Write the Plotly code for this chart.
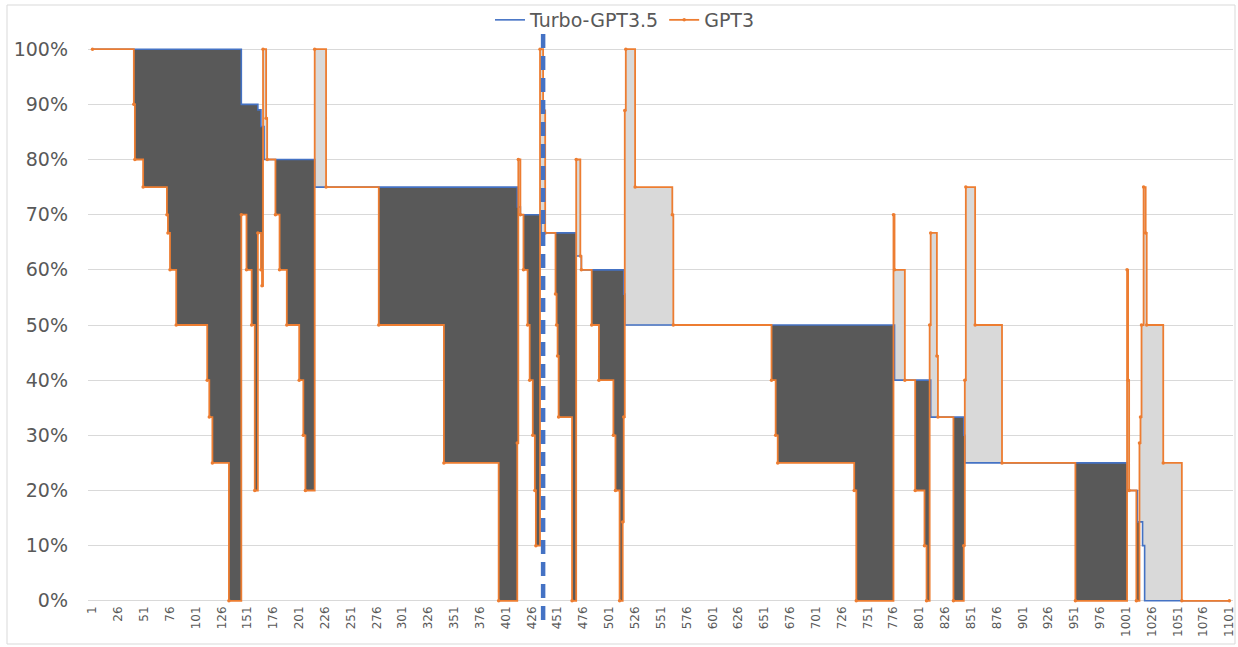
import plotly.graph_objects as go

N_POINTS = 1101

# Turbo-GPT3.5 : step series (index where a new level starts, level)
turbo_start = [1, 145, 161, 164, 167, 216, 412, 415, 435, 469, 474, 515, 516,
               777, 812, 844, 845, 1002, 1012, 1017, 1019]
turbo_value = [1.0, 0.90, 0.89, 0.86, 0.80, 0.75, 0.714, 0.70, 0.667, 0.625, 0.60, 0.556, 0.50,
               0.40, 0.333, 0.30, 0.25, 0.20, 0.143, 0.10, 0.0]

# GPT3 : step series
gpt3_start = [1, 41, 42, 50, 73, 74, 76, 82, 112, 114, 117, 133,
              145, 150, 155, 158, 161, 164, 165, 166, 169, 170, 178, 182, 189, 201, 205, 207,
              216, 227, 278, 341, 394,
              412, 413, 415, 418, 422, 424, 427, 429, 430, 434, 437, 439,
              449, 450, 451, 452, 465, 469, 473, 474, 484, 491, 505, 507, 511,
              514, 515, 516, 517, 526, 562, 563,
              658, 662, 664, 738, 740,
              776, 777, 787, 797, 806, 808, 811, 812, 818, 819, 834,
              844, 845, 846, 855, 881, 952,
              1002, 1003, 1004, 1011, 1014, 1015, 1016, 1018, 1020, 1021, 1037, 1055]
gpt3_value = [1.0, 0.90, 0.80, 0.75, 0.70, 0.667, 0.60, 0.50, 0.40, 0.333, 0.25, 0.0,
              0.70, 0.60, 0.50, 0.20, 0.667, 0.60, 0.571, 1.0, 0.875, 0.80, 0.70, 0.60, 0.50, 0.40, 0.30, 0.20,
              1.0, 0.75, 0.50, 0.25, 0.0,
              0.286, 0.80, 0.70, 0.60, 0.50, 0.40, 0.30, 0.20, 0.10, 1.0, 0.889, 0.667,
              0.556, 0.50, 0.444, 0.333, 0.0, 0.80, 0.625, 0.60, 0.50, 0.40, 0.30, 0.20, 0.0,
              0.143, 0.333, 0.889, 1.0, 0.75, 0.70, 0.50,
              0.40, 0.30, 0.25, 0.20, 0.0,
              0.70, 0.60, 0.40, 0.20, 0.10, 0.0, 0.50, 0.667, 0.444, 0.333, 0.0,
              0.10, 0.40, 0.75, 0.50, 0.25, 0.0,
              0.60, 0.40, 0.20, 0.0, 0.286, 0.333, 0.50, 0.75, 0.667, 0.50, 0.25, 0.0]

marker_index = 437  # dashed vertical divider

x_tick_labels = list(range(1, N_POINTS + 1, 25))
y_tick_values = [0, 0.1, 0.2, 0.3, 0.4, 0.5, 0.6, 0.7, 0.8, 0.9, 1.0]
y_tick_labels = ["0%", "10%", "20%", "30%", "40%", "50%", "60%", "70%", "80%", "90%", "100%"]

assert len(turbo_start) == len(turbo_value)
assert len(gpt3_start) == len(gpt3_value)

BLUE = "#4472C4"
ORANGE = "#ED7D31"
DARK = "#595959"
LIGHT = "#D9D9D9"
TXT = "#595959"
FONT = "DejaVu Sans"


def level_at(starts, values, i):
    v = values[0]
    for s, val in zip(starts, values):
        if s <= i:
            v = val
        else:
            break
    return v


def step_xy(starts, values):
    return list(starts) + [N_POINTS], list(values) + [values[-1]]


tx, ty = step_xy(turbo_start, turbo_value)
gx, gy = step_xy(gpt3_start, gpt3_value)

breaks = sorted(set(turbo_start) | set(gpt3_start))
low_y = [min(level_at(turbo_start, turbo_value, b), level_at(gpt3_start, gpt3_value, b)) for b in breaks]
low_x, low_y = step_xy(breaks, low_y)

fig = go.Figure()
common = dict(mode="lines", hoverinfo="skip", showlegend=False)

# dark: where Turbo is above GPT3
fig.add_trace(go.Scatter(x=low_x, y=low_y, line=dict(width=0, shape="hv"), **common))
fig.add_trace(go.Scatter(x=tx, y=ty, line=dict(width=0, shape="hv"), fill="tonexty",
                         fillcolor=DARK, **common))
# light: where GPT3 is above Turbo
fig.add_trace(go.Scatter(x=low_x, y=low_y, line=dict(width=0, shape="hv"), **common))
fig.add_trace(go.Scatter(x=gx, y=gy, line=dict(width=0, shape="hv"), fill="tonexty",
                         fillcolor=LIGHT, **common))

fig.add_trace(go.Scatter(x=tx, y=ty, mode="lines", name="Turbo-GPT3.5",
                         line=dict(color=BLUE, width=1.6, shape="hv")))
fig.add_trace(go.Scatter(x=gx, y=gy, mode="lines+markers", name="GPT3",
                         line=dict(color=ORANGE, width=1.8, shape="hv"),
                         marker=dict(color=ORANGE, size=3.5, symbol="circle")))

plot_l, plot_r, plot_t, plot_b = 88, 5, 47, 44
pw = 1238 - plot_l - plot_r
ph = 647 - plot_t - plot_b

fig.add_shape(type="line", xref="x", yref="paper",
              x0=marker_index, x1=marker_index,
              y0=(647 - plot_b - 620) / ph, y1=(647 - plot_b - 33) / ph,
              line=dict(color=BLUE, width=4.5, dash="14px,8px"))

fig.add_shape(type="rect", xref="paper", yref="paper",
              x0=(7 - plot_l) / pw, x1=(1235 - plot_l) / pw,
              y0=(647 - plot_b - 644) / ph, y1=(647 - plot_b - 5) / ph,
              line=dict(color="#D9D9D9", width=1), fillcolor="rgba(0,0,0,0)", layer="below")

fig.update_layout(
    width=1238, height=647,
    margin=dict(l=plot_l, r=plot_r, t=plot_t, b=plot_b, autoexpand=False),
    paper_bgcolor="white", plot_bgcolor="white",
    font=dict(family=FONT, color=TXT),
    showlegend=True,
    legend=dict(orientation="h", x=(625 - plot_l) / pw, xanchor="center",
                y=(647 - plot_b - 20) / ph, yanchor="middle", traceorder="normal",
                font=dict(family=FONT, size=19, color=TXT),
                bgcolor="rgba(0,0,0,0)", itemwidth=30, tracegroupgap=0),
    xaxis=dict(range=[-3.35, 1104.5], tickmode="array", tickvals=x_tick_labels,
               ticktext=[str(v) for v in x_tick_labels], tickangle=-90,
               tickfont=dict(family=FONT, size=12, color=TXT), automargin=False,
               showgrid=False, zeroline=False, showline=False, ticks=""),
    yaxis=dict(range=[-0.004, 1.004], tickmode="array", tickvals=y_tick_values,
               ticktext=y_tick_labels, tickfont=dict(family=FONT, size=19, color=TXT),
               showgrid=True, gridcolor="#D9D9D9", gridwidth=1, automargin=False,
               zeroline=False, showline=False, ticks="", ticklabelstandoff=19),
)

fig.write_html(
    "out.html",
    config={"displayModeBar": False},
    post_script="document.body.style.margin='0px';document.body.style.overflow='hidden';",
)
